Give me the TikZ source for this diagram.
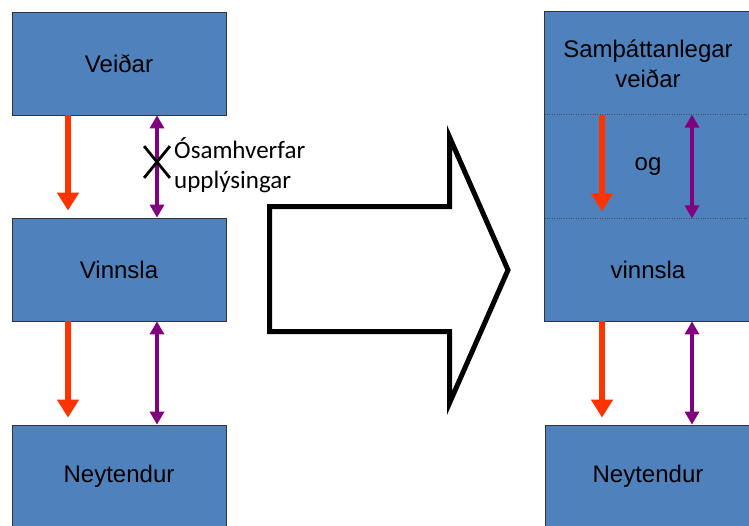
\documentclass[tikz,border=0pt]{standalone}
\usepackage{fontspec}
\setmainfont{Liberation Sans}
\newfontfamily\carlito{Carlito}
\usepackage{xcolor}
\definecolor{kassi}{HTML}{4F81BD}
\definecolor{rautt}{HTML}{FF3300}
\definecolor{fjolu}{HTML}{800080}
\usetikzlibrary{arrows.meta}
\usetikzlibrary{shapes.misc}

\begin{document}
\begin{tikzpicture}[x=1pt, y=-1pt,
    stig/.style={shape=rectangle, fill=kassi, draw=black!80, line width=0.8pt, minimum width=214pt, minimum height=103pt, inner sep=0pt, align=center, font=\fontsize{24}{30}\selectfont},
    hlutur/.style={stig, draw=none, minimum width=206pt},
    rodor/.style={draw=rautt, line width=6pt, -{Triangle[length=18pt, width=21pt]}, shorten >=7pt},
    upplor/.style={draw=fjolu, line width=3.5pt, {Triangle[length=13pt, width=14pt]}-{Triangle[length=13pt, width=14pt]}}]
    \useasboundingbox (0,0) rectangle (749,525);
    \clip (0,0) rectangle (749,525);
    \fill[white] (0,0) rectangle (749,525);

    % vinstri hlid
    \node [stig] (veidar) at (119,63.5) {Veiðar};
    \node [stig] (vinnsla) at (119,269.5) {Vinnsla};
    \node [stig] (neyt) at (119,476.5) {Neytendur};

    \draw[rodor] ([xshift=-51pt]veidar.south) -- ([xshift=-51pt]vinnsla.north);
    \draw[upplor] ([xshift=38pt]veidar.south) -- ([xshift=38pt]vinnsla.north);
    \draw[rodor] ([xshift=-51pt]vinnsla.south) -- ([xshift=-51pt]neyt.north);
    \draw[upplor] ([xshift=38pt]vinnsla.south) -- ([xshift=38pt]neyt.north);

    \node [cross out, draw=black, line width=2.8pt, minimum width=23pt, minimum height=29pt, inner sep=0pt] (kross) at (157,162) {};
    \node [anchor=west, align=left, inner sep=0pt, font=\carlito\fontsize{25}{30}\selectfont] (osam) at (174,165) {Ósamhverfar\\upplýsingar};

    % stora orin
    \draw[line width=5pt, miter limit=10] (269.5,206.5) -- (449.5,206.5) -- (449.5,137) -- (508,270) -- (449.5,403) -- (449.5,331.5) -- (269.5,331.5) -- cycle;

    % haegri hlid
    \node [hlutur] (samb) at (648,63.5) {Samþáttanlegar\\veiðar};
    \node [hlutur] (og) at (648,166.5) {og};
    \node [hlutur] (vinnslaH) at (648,269.5) {vinnsla};
    \draw[black!80, line width=0.8pt] (samb.north west) rectangle (vinnslaH.south east);
    \draw[black!70, dotted] (og.north west) -- (og.north east);
    \draw[black!70, dotted] (og.south west) -- (og.south east);
    \node [stig, minimum width=206pt] (neytH) at (648,476.5) {Neytendur};

    \draw[rodor] ([xshift=-46pt]og.north) -- ([xshift=-46pt]og.south);
    \draw[upplor] ([xshift=44pt]og.north) -- ([xshift=44pt]og.south);
    \draw[rodor] ([xshift=-46pt]vinnslaH.south) -- ([xshift=-46pt]neytH.north);
    \draw[upplor] ([xshift=44pt]vinnslaH.south) -- ([xshift=44pt]neytH.north);
\end{tikzpicture}
\end{document}
